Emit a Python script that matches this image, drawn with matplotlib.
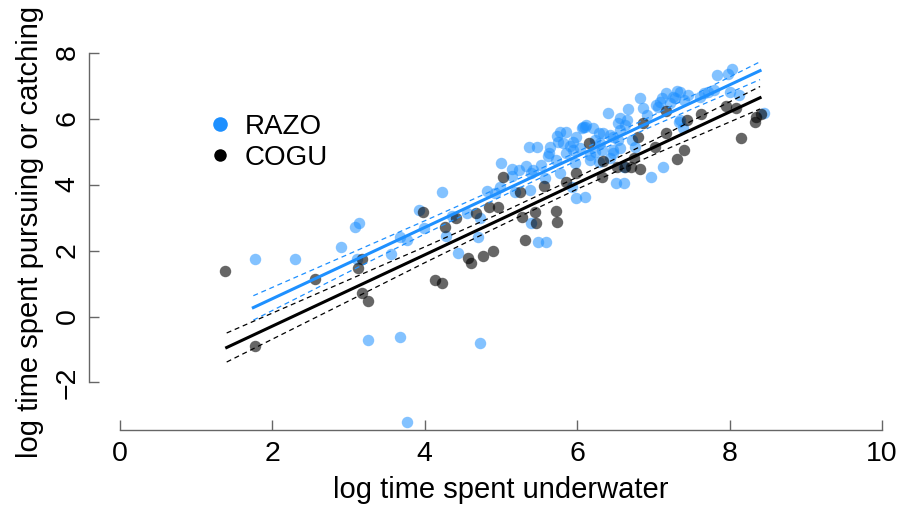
import numpy as np
import matplotlib.pyplot as plt
from matplotlib.lines import Line2D

plt.rcParams['font.family'] = ['Liberation Sans', 'DejaVu Sans']

# RAZO points (log time underwater, log time pursuing/catching)
razo_x = [1.77, 2.30, 2.90, 3.09, 3.14, 3.11, 3.26, 3.67, 3.76, 3.55,
          3.67, 3.77, 3.92, 3.99, 4.23, 4.28, 4.36, 4.43, 4.72, 4.55,
          4.72, 4.70, 4.81, 4.92, 4.99, 5.00, 5.14, 5.14, 5.24, 5.18,
          5.38, 5.33, 5.42, 5.37, 5.47, 5.53, 5.40, 5.48, 5.59, 5.58,
          5.62, 5.64, 5.72, 5.75, 5.73, 5.85, 5.85, 5.78, 5.91, 5.99,
          5.97, 5.95, 5.82, 5.93, 6.10, 6.51, 6.61, 6.61, 6.97, 7.13,
          6.82, 6.41, 6.67, 7.04, 7.11, 7.17, 7.26, 7.31, 7.33, 7.84,
          7.98, 8.03, 7.72, 7.79, 7.66, 7.35, 7.46, 8.00, 8.13, 7.40,
          7.35, 8.45, 7.39, 6.56, 6.86, 7.09, 7.22, 7.28, 7.06, 5.40,
          5.63, 5.77, 5.95, 6.04, 6.06, 6.10, 6.12, 6.21, 6.28, 6.30,
          6.33, 6.47, 6.54, 6.56, 6.65, 6.63, 6.91, 6.72, 6.76, 7.61,
          5.99, 6.47, 6.56, 6.23, 6.17, 6.28, 6.43, 6.17, 6.23, 6.43,
          6.34, 6.47, 6.54, 6.08]
razo_y = [1.74, 1.74, 2.12, 2.70, 2.84, 1.73, -0.71, -0.63, -3.19, 1.88,
          2.42, 2.32, 3.23, 2.67, 3.78, 2.44, 3.05, 1.92, -0.81, 3.15,
          2.98, 2.42, 3.81, 3.73, 3.92, 4.66, 4.46, 4.26, 4.44, 3.78,
          3.83, 4.56, 4.44, 5.15, 5.15, 4.59, 2.82, 2.27, 2.27, 4.19,
          4.86, 5.13, 4.74, 5.30, 5.47, 5.60, 4.95, 4.36, 5.17, 3.58,
          4.64, 5.30, 5.25, 3.93, 3.63, 4.04, 4.04, 4.54, 4.24, 4.54,
          6.61, 6.16, 6.28, 6.41, 6.61, 6.78, 6.66, 6.84, 5.90, 7.32,
          7.34, 7.49, 6.81, 6.86, 6.78, 6.81, 6.71, 6.81, 6.71, 6.56,
          5.95, 6.18, 5.70, 6.01, 6.31, 6.51, 6.46, 6.61, 6.36, 4.34,
          4.95, 5.60, 5.05, 5.10, 5.70, 5.75, 5.80, 5.70, 5.55, 5.25,
          5.05, 4.95, 5.85, 5.65, 5.95, 5.80, 6.11, 5.35, 5.15, 6.66,
          5.45, 5.05, 5.10, 5.00, 4.89, 4.69, 4.80, 4.74, 5.35, 5.50,
          5.56, 5.44, 5.35, 5.74]

# COGU points
cogu_x = [1.38, 1.77, 2.56, 3.18, 3.13, 3.18, 3.25, 3.97, 4.13, 4.23,
          4.27, 4.41, 4.57, 4.61, 4.77, 4.89, 4.67, 4.84, 4.96, 5.02,
          5.25, 5.28, 5.44, 5.46, 5.31, 5.56, 5.72, 5.74, 5.85, 5.99,
          7.17, 7.17, 6.87, 6.80, 6.75, 6.63, 6.71, 6.82, 7.02, 6.34,
          6.32, 6.15, 6.52, 7.31, 7.95, 8.08, 7.63, 7.44, 8.41, 8.35,
          8.33, 8.15, 7.40]
cogu_y = [1.39, -0.88, 1.13, 1.74, 1.48, 0.72, 0.48, 3.18, 1.11, 1.01,
          2.70, 2.98, 1.78, 1.61, 1.83, 1.98, 3.15, 3.33, 3.33, 4.24,
          3.78, 3.02, 3.18, 2.82, 2.32, 3.95, 3.21, 2.85, 4.08, 4.36,
          6.24, 5.57, 5.87, 5.43, 4.79, 4.54, 4.52, 4.47, 5.15, 4.72,
          4.24, 5.25, 4.52, 4.76, 6.38, 6.31, 6.14, 5.95, 6.14, 6.05,
          5.90, 5.40, 5.05]

# fitted lines and confidence bands
razo_fit_x = [1.75, 3.0, 4.0, 5.0, 6.0, 7.0, 8.4]
razo_fit = [0.27, 1.62, 2.70, 3.78, 4.86, 5.94, 7.45]
razo_upper = [0.63, 1.89, 2.90, 3.93, 4.99, 6.10, 7.72]
razo_lower = [-0.11, 1.35, 2.50, 3.63, 4.73, 5.78, 7.18]

cogu_fit_x = [1.4, 3.0, 4.0, 5.0, 6.0, 7.0, 8.4]
cogu_fit = [-0.94, 0.79, 1.87, 2.95, 4.04, 5.12, 6.63]
cogu_upper = [-0.50, 1.11, 2.11, 3.14, 4.22, 5.34, 6.97]
cogu_lower = [-1.38, 0.47, 1.63, 2.76, 3.86, 4.90, 6.29]

xticks = [0, 2, 4, 6, 8, 10]
yticks = [-2, 0, 2, 4, 6, 8]

blue = '#1E90FF'
axcol = '#666666'

fig = plt.figure(figsize=(9.01, 5.09), dpi=100)
ax = fig.add_axes([0.0909, 0.1448, 0.9049, 0.7650])

ax.scatter(razo_x, razo_y, s=68, color=blue, alpha=0.55, linewidths=0)
ax.scatter(cogu_x, cogu_y, s=68, color='black', alpha=0.6, linewidths=0)

ax.plot(razo_fit_x, razo_fit, color=blue, lw=2.2)
ax.plot(razo_fit_x, razo_upper, color=blue, lw=0.9, ls=(0, (4, 3)))
ax.plot(razo_fit_x, razo_lower, color=blue, lw=0.9, ls=(0, (4, 3)))
ax.plot(cogu_fit_x, cogu_fit, color='black', lw=2.2)
ax.plot(cogu_fit_x, cogu_upper, color='black', lw=0.9, ls=(0, (4, 3)))
ax.plot(cogu_fit_x, cogu_lower, color='black', lw=0.9, ls=(0, (4, 3)))

ax.set_xlim(-0.5, 10.2)
ax.set_ylim(-3.6, 8.2)
ax.spines['top'].set_visible(False)
ax.spines['right'].set_visible(False)
ax.spines['left'].set_position(('data', -0.407))
ax.spines['bottom'].set_position(('data', -3.44))
ax.spines['left'].set_bounds(-2, 8)
ax.spines['bottom'].set_bounds(0, 10)
for sp in ['left', 'bottom']:
    ax.spines[sp].set_color(axcol)
    ax.spines[sp].set_linewidth(1.0)

ax.set_xticks(xticks)
ax.set_yticks(yticks)
ax.set_yticklabels([str(v).replace('-', '\u2212') for v in yticks])
ax.tick_params(direction='in', length=7, width=1, color=axcol,
               labelsize=20.5, labelcolor='black')
ax.tick_params(axis='x', pad=8)
ax.tick_params(axis='y', pad=6)
for lab in ax.get_yticklabels():
    lab.set_rotation(90)
    lab.set_va('center')

fig.text(501 / 901, 1 - 490 / 509, 'log time spent underwater',
         ha='center', va='center', fontsize=21)
fig.text(30 / 901, 1 - 232 / 509, 'log time spent pursuing or catching',
         ha='center', va='center', fontsize=21, rotation=90)

handles = [Line2D([], [], marker='o', ls='none', markersize=10.5,
                  markerfacecolor=blue, markeredgecolor='none'),
           Line2D([], [], marker='o', ls='none', markersize=9,
                  markerfacecolor='black', markeredgecolor='none')]
ax.legend(handles, ['RAZO', 'COGU'], loc='upper left',
          bbox_to_anchor=(206 / 901, 1 - 114 / 509),
          bbox_transform=fig.transFigure, frameon=False, fontsize=20,
          handlelength=1.0, handletextpad=0.4, labelspacing=0.17,
          borderpad=0, borderaxespad=0)

plt.savefig('out.png', dpi=100)
